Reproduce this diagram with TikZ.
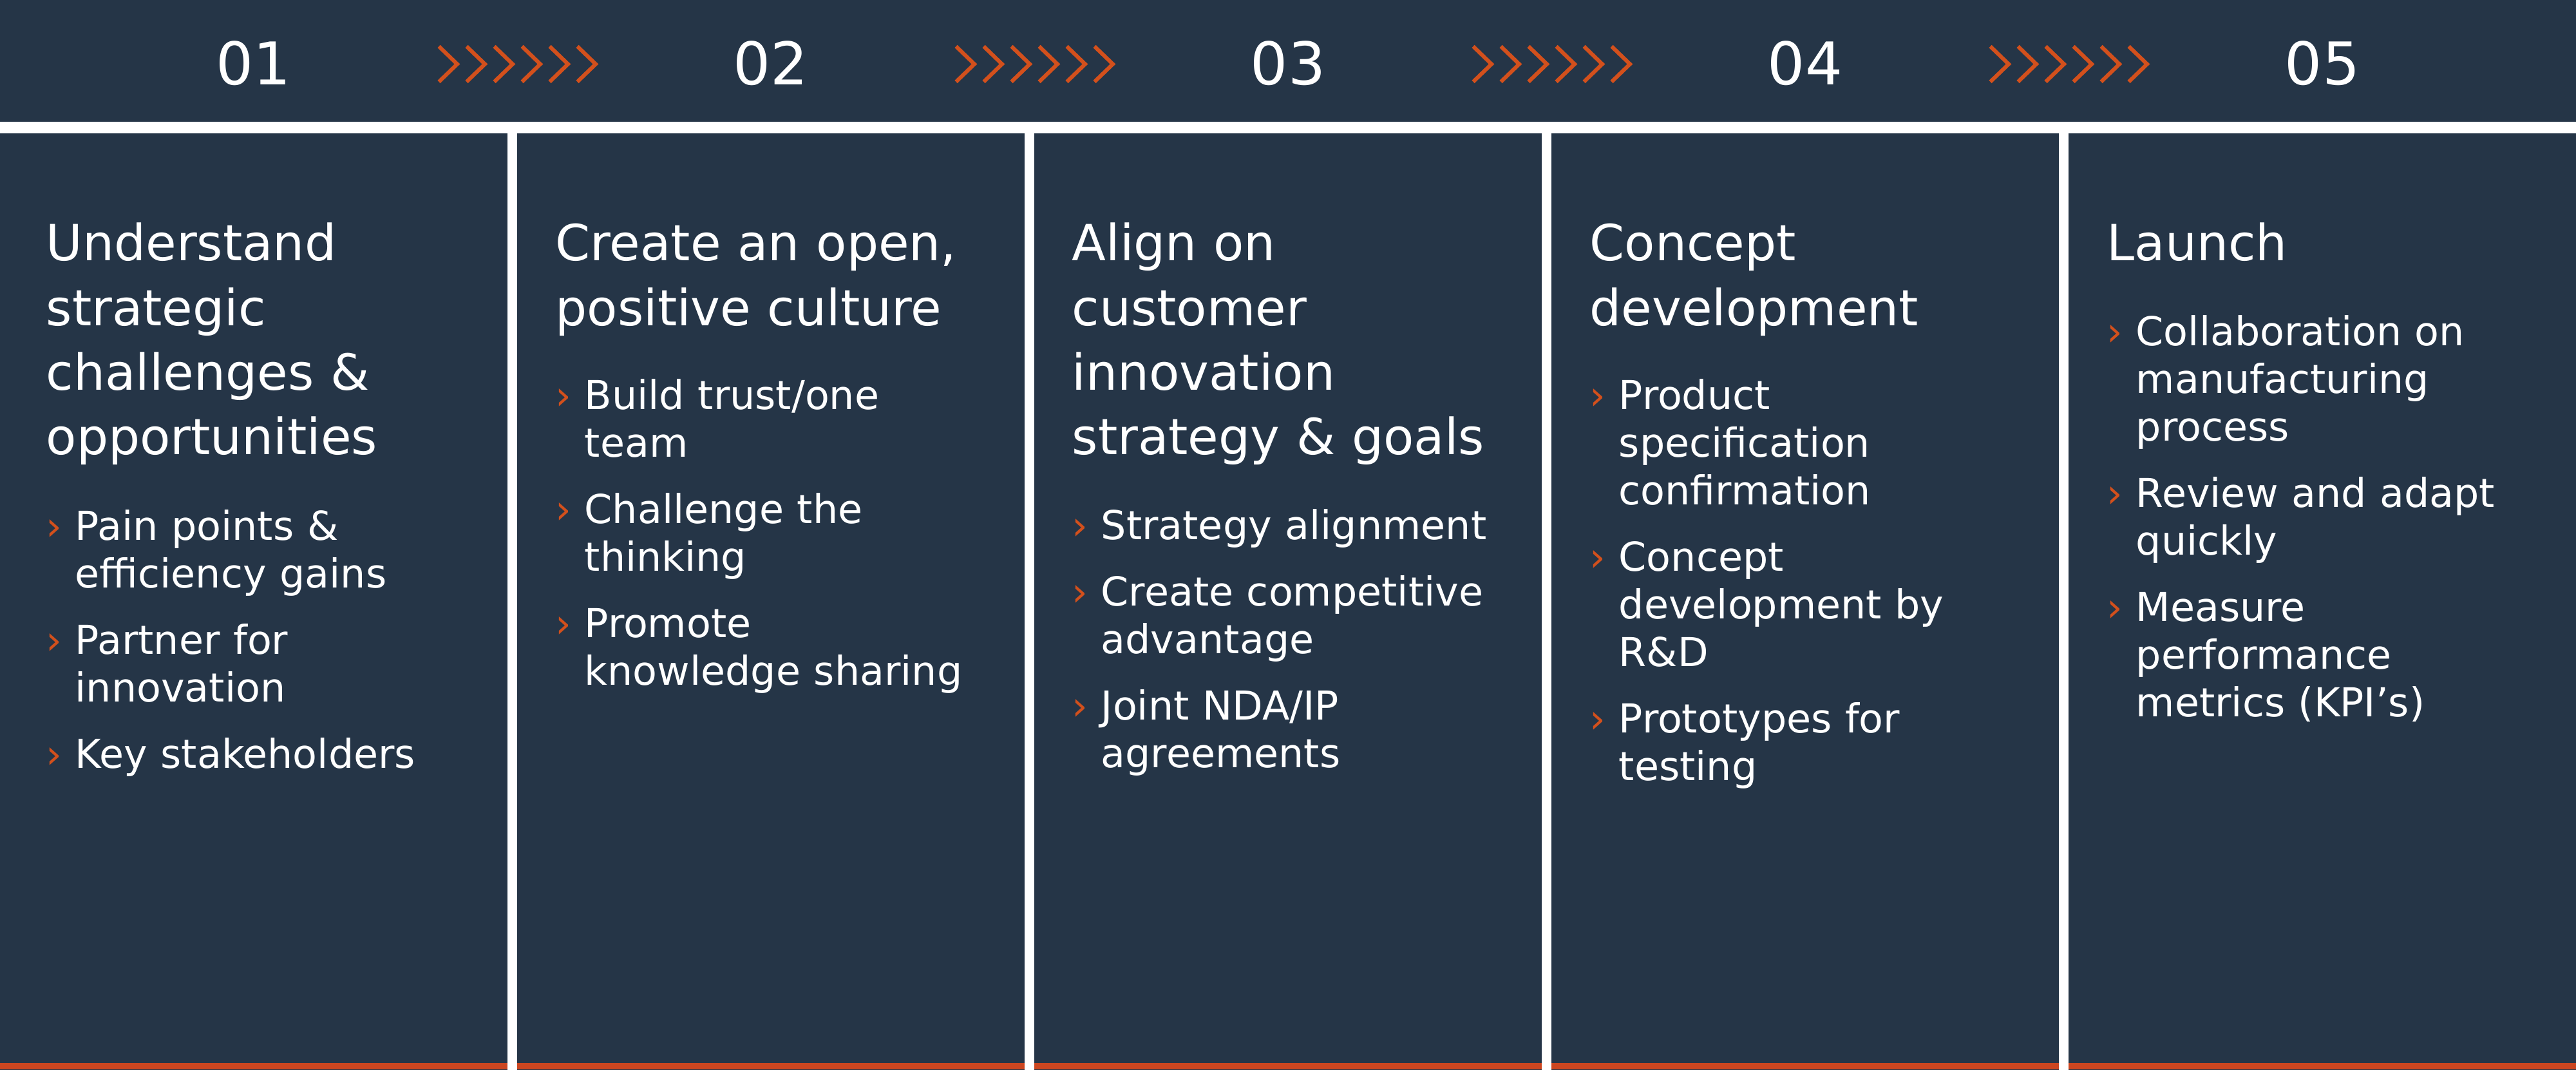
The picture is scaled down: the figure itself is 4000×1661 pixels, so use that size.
\documentclass[tikz,border=0pt]{standalone}
\usepackage{fontspec}
\setmainfont{DejaVu Sans}
\usepackage{tikz}
\definecolor{navy}{RGB}{37,53,71}
\definecolor{rust}{RGB}{211,80,28}
\definecolor{rustbar}{RGB}{204,70,32}
\newlength{\bulw}
\setlength{\bulw}{0.45cm}
\newcommand{\bul}{\makebox[\bulw][l]{\textcolor{rust}{›}}}
\newcommand{\cnt}{\hspace*{\bulw}}
\newcommand{\bgap}{\\[0.29cm]}

\begin{document}
\begin{tikzpicture}[x=0.01cm, y=-0.01cm,
  panel/.style={fill=navy},
  num/.style={text=white, font=\fontsize{26pt}{30pt}\selectfont, anchor=base, inner sep=0pt},
  chev/.style={draw=rust, line width=0.06cm},
  title/.style={text=white, anchor=base west, align=left, inner sep=0pt, text width=7.2cm, font=\fontsize{22pt}{1cm}\selectfont},
  points/.style={text=white, anchor=base west, align=left, inner sep=0pt, text width=7.2cm, font=\fontsize{17.6pt}{0.74cm}\selectfont}]
  \useasboundingbox (0,0) rectangle (4000,1661);

  % Header band with step numbers
  \fill[panel] (0,0) rectangle (4000,189);
  \node[num] (n1) at (394,132) {01};
  \node[num] (n2) at (1197,132) {02};
  \node[num] (n3) at (2000,132) {03};
  \node[num] (n4) at (2803,132) {04};
  \node[num] (n5) at (3606,132) {05};

  % Chevrons between the steps
  \foreach \g in {1,...,4}
    \foreach \k in {0,...,5}
      \draw[chev] ({\g*803-121.5+\k*43},72) -- ++(28.5,27.5) -- ++(-28.5,27.5);

  % Columns
  \foreach \i in {0,...,4}{
    \fill[panel] ({\i*803},207) rectangle ({\i*803+788},1661);
    \fill[rustbar] ({\i*803},1650) rectangle ({\i*803+788},1660);
  }

  % Step 1
  \node[title] (t1) at (71,405) {Understand\\strategic\\challenges \&\\opportunities};
  \node[points] (p1) at (71,838) {\bul Pain points \&\\\cnt efficiency gains\bgap
    \bul Partner for\\\cnt innovation\bgap
    \bul Key stakeholders};

  % Step 2
  \node[title] (t2) at (862,405) {Create an open,\\positive culture};
  \node[points] (p2) at (862,635) {\bul Build trust/one\\\cnt team\bgap
    \bul Challenge the\\\cnt thinking\bgap
    \bul Promote\\\cnt knowledge sharing};

  % Step 3
  \node[title] (t3) at (1664,405) {Align on\\customer\\innovation\\strategy \& goals};
  \node[points] (p3) at (1664,837) {\bul Strategy alignment\bgap
    \bul Create competitive\\\cnt advantage\bgap
    \bul Joint NDA/IP\\\cnt agreements};

  % Step 4
  \node[title] (t4) at (2468,405) {Concept\\development};
  \node[points] (p4) at (2468,635) {\bul Product\\\cnt specification\\\cnt confirmation\bgap
    \bul Concept\\\cnt development by\\\cnt R\&D\bgap
    \bul Prototypes for\\\cnt testing};

  % Step 5
  \node[title] (t5) at (3271,405) {Launch};
  \node[points] (p5) at (3271,536) {\bul Collaboration on\\\cnt manufacturing\\\cnt process\bgap
    \bul Review and adapt\\\cnt quickly\bgap
    \bul Measure\\\cnt performance\\\cnt metrics (KPI’s)};
\end{tikzpicture}
\end{document}
